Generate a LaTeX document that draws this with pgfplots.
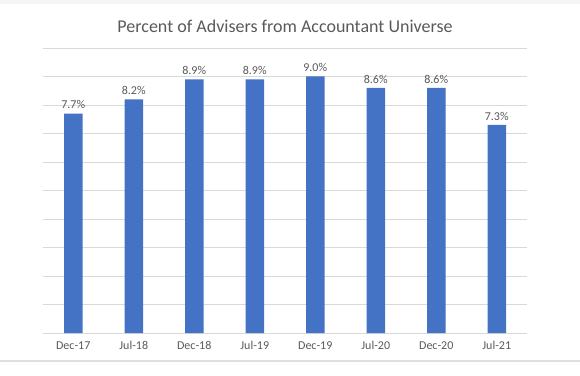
\documentclass[border=0pt]{standalone}
\usepackage{fontspec}
\setmainfont{Carlito}
\usepackage{pgfplots}
\pgfplotsset{compat=1.18}
\definecolor{barblue}{HTML}{4472C4}
\definecolor{gridgray}{HTML}{D9D9D9}
\definecolor{txtgray}{HTML}{595959}
\begin{document}
\begin{tikzpicture}[x=1pt,y=1pt]
\useasboundingbox (0,0) rectangle (580,375);
\fill[gray!8] (0,371) rectangle (580,375);
\draw[gray!25,line width=1.2pt] (0,14) -- (580,14);
\begin{axis}[
  at={(43pt,42pt)}, anchor=south west,
  scale only axis, width=484pt, height=285pt,
  ybar, bar width=18.5pt,
  ymin=0, ymax=10, ytick={0,1,...,10}, yticklabels={},
  ymajorgrids, grid style={draw=gridgray, line width=0.8pt},
  axis line style={draw=none},
  major tick length=0pt,
  xmin=-0.5, xmax=7.5,
  xtick={0,1,2,3,4,5,6,7},
  xticklabels={Dec-17,Jul-18,Dec-18,Jul-19,Dec-19,Jul-20,Dec-20,Jul-21},
  xticklabel style={font=\fontsize{12}{14}\selectfont, text=txtgray, yshift=-5pt},
  nodes near coords={\pgfmathprintnumber[fixed,fixed zerofill,precision=1,assume math mode=true]{\pgfplotspointmeta}\%},
  every node near coord/.append style={font=\fontsize{12}{14}\selectfont, text=txtgray, yshift=1pt},
]
\addplot[fill=barblue, draw=none] coordinates {(0,7.7) (1,8.2) (2,8.9) (3,8.9) (4,9.0) (5,8.6) (6,8.6) (7,7.3)};
\end{axis}
\node[text=txtgray, font=\fontsize{18}{21}\selectfont] at (285,349) {Percent of Advisers from Accountant Universe};
\end{tikzpicture}
\end{document}
